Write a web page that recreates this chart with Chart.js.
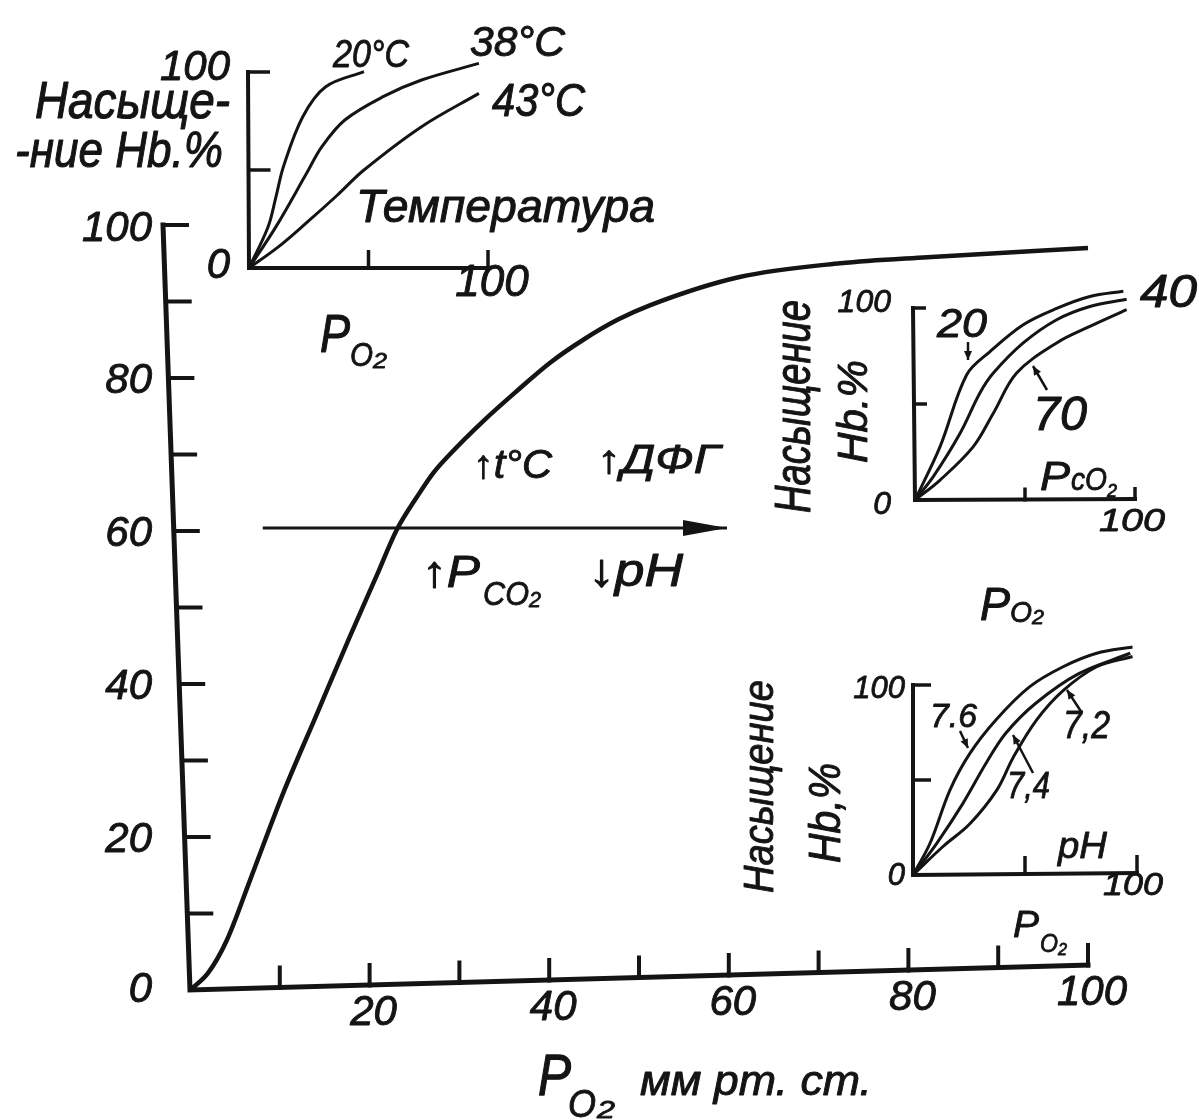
<!DOCTYPE html>
<html>
<head>
<meta charset="utf-8">
<script src="https://cdn.jsdelivr.net/npm/chart.js@4.4.1/dist/chart.umd.min.js"></script>
<style>
  html, body { margin: 0; padding: 0; background: #fff; }
  #wrap { position: relative; width: 1199px; height: 1120px; overflow: hidden; background: #fff; }
  canvas { position: absolute; }
</style>
</head>
<body>
<div id="wrap">
  <canvas id="main" width="1199" height="1120" style="left:0;top:0"></canvas>
  <canvas id="temp" width="400" height="280" style="left:150px;top:30px"></canvas>
  <canvas id="pco2" width="400" height="280" style="left:790px;top:270px"></canvas>
  <canvas id="ph" width="350" height="300" style="left:840px;top:620px"></canvas>
</div>
<script>
// ---- Main oxygen dissociation curve: PO2 (mm Hg) vs Hb saturation (%) ----
const mainPO2 = [0, 2, 4.1, 6.7, 10.4, 14.1, 17.8, 20.8, 23, 25.3, 27.1, 29, 32.6, 36.4, 40.1, 43.8, 47.6, 51.2, 61.2, 72.4, 82.1, 100];
const mainSat = [0, 2.2, 6.5, 14.4, 25.8, 36, 46.2, 54.2, 60.1, 64.5, 67.6, 70.1, 74.3, 78.3, 82, 85, 87.6, 89.5, 93.2, 95, 95.8, 97];
// shift arrow (right shift of the curve)
const shiftPO2 = [8.1, 59.8];
const shiftSat = [60.4, 60.4];
const mainYTicks = [10, 20, 30, 40, 50, 60, 70, 80, 90, 100];
const mainXTicks = [10, 20, 30, 40, 50, 60, 70, 80, 90, 100];
const mainYLabels = [0, 20, 40, 60, 80, 100];
const mainXLabels = [20, 40, 60, 80, 100];

// ---- Inset: temperature ----
const t20PO2 = [0, 8, 11.3, 14.4, 22.5, 32.1, 48.1];
const t20Sat = [0, 21, 36.4, 51.7, 77.2, 92.5, 100.2];
const t38PO2 = [0, 11.3, 24.1, 30.5, 40.1, 56.1, 72.2, 96.2];
const t38Sat = [0, 21.1, 48.3, 61.9, 75.5, 87.4, 95.9, 104.4];
const t43PO2 = [0, 12, 24, 36.8, 48.1, 72.2, 96.2];
const t43Sat = [0, 10.5, 23, 37, 50, 72.1, 89.1];

// ---- Inset: PCO2 (20, 40, 70 mm Hg) ----
const c20PO2 = [0, 11.4, 23.5, 34.1, 49.2, 64.4, 79.5, 94.7];
const c20Sat = [0, 27.8, 65.2, 77.3, 91.3, 99.8, 106, 108.7];
const c40PO2 = [0, 8.3, 20.5, 29.5, 35.6, 49.2, 64.4, 79.5, 96.2];
const c40Sat = [0, 12.2, 34.8, 55.7, 66.1, 81.8, 93.9, 100.8, 104.6];
const c70PO2 = [0, 11.4, 26.5, 35.6, 46.2, 64.4, 79.5, 96.2];
const c70Sat = [0, 10.4, 27.8, 45.2, 66.1, 81.8, 90.4, 99.1];

// ---- Inset: pH (7.6, 7.4, 7.2) ----
const p76PO2 = [0, 7.6, 16.5, 25.4, 37, 52, 67, 82, 98];
const p76Sat = [0, 16.7, 44.7, 64, 81.6, 99, 109.6, 116.7, 120];
const p74PO2 = [0, 10.6, 22.3, 32.6, 41.4, 54.8, 74, 97];
const p74Sat = [0, 16.7, 37.7, 58.8, 74.6, 90.4, 106, 116.7];
const p72PO2 = [0, 13.4, 25.4, 37.4, 44.8, 55.2, 67, 82, 98];
const p72Sat = [0, 15, 27, 44.7, 62, 81.6, 97, 109.6, 115];

const insetTicks = [50, 100];
const insetYLabels = [0, 100];
const insetXLabels = [100];

// ---------------------------------------------------------------
const INK = '#141414';
const FONT = '"Liberation Sans", Arial, sans-serif';

function pts(xs, ys) { return xs.map((x, i) => ({ x: x, y: ys[i] })); }

// italic lettering, slightly thickened like pen strokes
function drawText(ctx, t, x, y, size, o) {
  o = o || {};
  ctx.save();
  ctx.font = 'italic ' + size + 'px ' + FONT;
  ctx.fillStyle = INK;
  ctx.strokeStyle = INK;
  ctx.lineWidth = Math.max(0.8, size * 0.022);
  ctx.lineJoin = 'round';
  ctx.textAlign = o.align || 'left';
  ctx.textBaseline = o.base || 'alphabetic';
  ctx.translate(x, y);
  if (o.rot) ctx.rotate(o.rot * Math.PI / 180);
  if (o.w) { const m = ctx.measureText(t).width; ctx.scale(o.w / m, 1); }
  ctx.fillText(t, 0, 0);
  ctx.strokeText(t, 0, 0);
  ctx.restore();
}

function arrowHead(ctx, x1, y1, x2, y2, len, half) {
  const a = Math.atan2(y2 - y1, x2 - x1);
  ctx.beginPath();
  ctx.moveTo(x2, y2);
  ctx.lineTo(x2 - len * Math.cos(a) + half * Math.sin(a), y2 - len * Math.sin(a) - half * Math.cos(a));
  ctx.lineTo(x2 - len * Math.cos(a) - half * Math.sin(a), y2 - len * Math.sin(a) + half * Math.cos(a));
  ctx.closePath();
  ctx.fill();
}

// hand-drawn style axes: slanted lines, inward ticks, italic numbers
function sketchAxes(cfg) {
  return {
    id: 'sketchAxes',
    beforeDatasetsDraw(chart) {
      const ctx = chart.ctx, xs = chart.scales.x, ys = chart.scales.y;
      const ox = xs.getPixelForValue(0), oy = ys.getPixelForValue(0);
      const yAx = v => [ox + cfg.ySlant * v / cfg.yTop, ys.getPixelForValue(v)];
      const xAx = u => [xs.getPixelForValue(u), oy + cfg.xSlant * u / cfg.xEnd];
      ctx.save();
      ctx.strokeStyle = INK;
      ctx.lineWidth = cfg.lw;
      ctx.lineJoin = 'miter';
      ctx.lineCap = 'square';
      ctx.beginPath();
      const top = yAx(cfg.yTop), end = xAx(cfg.xEnd);
      ctx.moveTo(top[0], top[1]);
      ctx.lineTo(ox, oy);
      ctx.lineTo(end[0], end[1]);
      ctx.stroke();
      ctx.lineWidth = cfg.tickLw;
      ctx.lineCap = 'butt';
      cfg.yTicks.forEach(v => {
        const p = yAx(v);
        ctx.beginPath(); ctx.moveTo(p[0], p[1]); ctx.lineTo(p[0] + cfg.yTickLen, p[1]); ctx.stroke();
      });
      cfg.xTicks.forEach(u => {
        const p = xAx(u);
        ctx.beginPath(); ctx.moveTo(p[0], p[1] + cfg.lw / 2); ctx.lineTo(p[0], p[1] - cfg.xTickLen); ctx.stroke();
      });
      cfg.yLabels.forEach((v, i) => {
        drawText(ctx, String(v), ox + cfg.yLabelDx, ys.getPixelForValue(v) + cfg.yLabelDy[i], cfg.yFont,
          { align: 'right', base: 'middle' });
      });
      cfg.xLabels.forEach(u => {
        const p = xAx(u);
        drawText(ctx, String(u), p[0] + cfg.xLabelDx, p[1] + cfg.xLabelDy, cfg.xFont,
          { align: 'center', base: 'middle', w: cfg.xLabelW });
      });
      ctx.restore();
    }
  };
}

// padding so that the value range lands on the wanted page pixels
function padFor(left, top, w, h, x0, x1, y0, y100, yMax) {
  const yTop = y0 - (y0 - y100) * yMax / 100;
  return { left: x0 - left, right: left + w - x1, top: yTop - top, bottom: top + h - y0 };
}

function lineSet(data, width) {
  return {
    data: data, showLine: true, borderColor: INK, borderWidth: width,
    pointRadius: 0, tension: 0.35, fill: false, clip: false
  };
}

function baseOptions(padding, yMax) {
  return {
    responsive: false, animation: false, events: [],
    layout: { padding: padding },
    plugins: { legend: { display: false }, tooltip: { enabled: false } },
    scales: {
      x: { type: 'linear', min: 0, max: 100, display: false },
      y: { type: 'linear', min: 0, max: yMax, display: false }
    }
  };
}

// ---- annotations drawn in page coordinates on the main canvas ----
const notes = [
  // temperature inset
  ['Насыще-', 35, 118, 52, 195], ['-ние Hb.%', 15, 167, 50, 208],
  ['Температура', 356, 222, 46, 299],
  ['20°C', 333, 67, 38, 76], ['38°C', 470, 56, 42, 95], ['43°C', 492, 116, 46, 93],
  ['P', 320, 352, 54, 30], ['O', 350, 366, 34, 23], ['2', 373, 368, 22, 14],
  // pco2 inset
  ['20', 937, 337, 40, 50], ['40', 1140, 307, 46, 57], ['70', 1033, 430, 48, 54],
  ['P', 1040, 490, 40, 30], ['cO', 1071, 490, 32, 36], ['2', 1107, 497, 18, 10],
  ['P', 980, 620, 46, 30], ['O', 1010, 622, 30, 22], ['2', 1032, 624, 20, 12],
  // pH inset
  ['7.6', 930, 727, 34, 47], ['7,4', 1007, 798, 36, 43], ['7,2', 1063, 738, 38, 47],
  ['pH', 1058, 858, 36, 49],
  // main chart
  ['↑t°C', 473, 478, 40, 79], ['↑ДФГ', 597, 473, 40, 123],
  ['↑P', 422, 587, 44, 58], ['CO', 483, 605, 34, 46], ['2', 529, 607, 22, 12],
  ['↓pH', 588, 586, 46, 95],
  ['P', 1013, 937, 36, 26], ['O', 1040, 952, 26, 18], ['2', 1058, 955, 16, 9],
  ['P', 538, 1095, 58, 33], ['O', 568, 1117, 38, 28], ['2', 597, 1118, 24, 18],
  ['мм рт. ст.', 640, 1095, 42, 232]
];
const rotNotes = [
  ['Насыщение', 810, 513, 50, 213], ['Hb.%', 867, 463, 42, 103],
  ['Насыщение', 773, 893, 42, 213], ['Hb,%', 840, 863, 44, 100]
];
const pointers = [
  [968, 342, 968, 360], [1047, 390, 1033, 366],
  [960, 731, 968, 748], [1033, 773, 1013, 735], [1082, 713, 1067, 690]
];

const notesPlugin = {
  id: 'notes',
  afterDraw(chart) {
    const ctx = chart.ctx;
    notes.forEach(n => drawText(ctx, n[0], n[1], n[2], n[3], { w: n[4] }));
    rotNotes.forEach(n => drawText(ctx, n[0], n[1], n[2], n[3], { w: n[4], rot: -90 }));
    ctx.save();
    ctx.strokeStyle = INK; ctx.fillStyle = INK; ctx.lineWidth = 2.5;
    pointers.forEach(p => {
      ctx.beginPath(); ctx.moveTo(p[0], p[1]); ctx.lineTo(p[2], p[3]); ctx.stroke();
      arrowHead(ctx, p[0], p[1], p[2], p[3], 9, 4);
    });
    // head of the shift arrow, placed on the arrow's last point
    const meta = chart.getDatasetMeta(1);
    const a = meta.data[0], b = meta.data[meta.data.length - 1];
    arrowHead(ctx, a.x, a.y, b.x, b.y, 44, 8);
    ctx.restore();
  }
};

// ---- main chart ----
new Chart(document.getElementById('main'), {
  type: 'scatter',
  data: { datasets: [
    Object.assign(lineSet(pts(mainPO2, mainSat), 4.5), { cubicInterpolationMode: 'monotone' }),
    Object.assign(lineSet(pts(shiftPO2, shiftSat), 3), { tension: 0 })
  ] },
  options: baseOptions({ left: 190, right: 111, top: 225, bottom: 130 }, 100),
  plugins: [sketchAxes({
    lw: 5, tickLw: 4, yTop: 100, ySlant: -27, xEnd: 100, xSlant: -25,
    yTicks: mainYTicks, yTickLen: 26, xTicks: mainXTicks, xTickLen: 22,
    yLabels: mainYLabels, yLabelDx: -38, yLabelDy: [0, 3, 3, 3, 3, 4], yFont: 42,
    xLabels: mainXLabels, xLabelDx: 4, xLabelDy: 28, xFont: 42
  }), notesPlugin]
});

// ---- temperature inset ----
new Chart(document.getElementById('temp'), {
  type: 'scatter',
  data: { datasets: [
    lineSet(pts(t20PO2, t20Sat), 3), lineSet(pts(t38PO2, t38Sat), 3), lineSet(pts(t43PO2, t43Sat), 3)
  ] },
  options: baseOptions(padFor(150, 30, 400, 280, 249, 488, 268, 72, 110), 110),
  plugins: [sketchAxes({
    lw: 4, tickLw: 3.5, yTop: 100, ySlant: -1, xEnd: 100, xSlant: 0,
    yTicks: insetTicks, yTickLen: 22, xTicks: insetTicks, xTickLen: 18,
    yLabels: insetYLabels, yLabelDx: -19, yLabelDy: [-2, -4], yFont: 42,
    xLabels: insetXLabels, xLabelDx: 4, xLabelDy: 16, xFont: 44
  })]
});

// ---- PCO2 inset ----
new Chart(document.getElementById('pco2'), {
  type: 'scatter',
  data: { datasets: [
    lineSet(pts(c20PO2, c20Sat), 3), lineSet(pts(c40PO2, c40Sat), 3), lineSet(pts(c70PO2, c70Sat), 3)
  ] },
  options: baseOptions(padFor(790, 270, 400, 280, 915, 1135, 500, 308, 115), 115),
  plugins: [sketchAxes({
    lw: 4, tickLw: 3.5, yTop: 100, ySlant: -2, xEnd: 100, xSlant: -1,
    yTicks: insetTicks, yTickLen: 13, xTicks: insetTicks, xTickLen: 12,
    yLabels: insetYLabels, yLabelDx: -24, yLabelDy: [5, -5], yFont: 32,
    xLabels: insetXLabels, xLabelDx: -3, xLabelDy: 23, xFont: 32, xLabelW: 66
  })]
});

// ---- pH inset ----
new Chart(document.getElementById('ph'), {
  type: 'scatter',
  data: { datasets: [
    lineSet(pts(p76PO2, p76Sat), 3), lineSet(pts(p74PO2, p74Sat), 3), lineSet(pts(p72PO2, p72Sat), 3)
  ] },
  options: baseOptions(padFor(840, 620, 350, 300, 913, 1137, 875, 685, 125), 125),
  plugins: [sketchAxes({
    lw: 4, tickLw: 3.5, yTop: 100, ySlant: 0, xEnd: 100, xSlant: -2,
    yTicks: insetTicks, yTickLen: 18, xTicks: insetTicks, xTickLen: 18,
    yLabels: insetYLabels, yLabelDx: -8, yLabelDy: [1, 4], yFont: 31,
    xLabels: insetXLabels, xLabelDx: -4, xLabelDy: 13, xFont: 32, xLabelW: 60
  })]
});
</script>
</body>
</html>
